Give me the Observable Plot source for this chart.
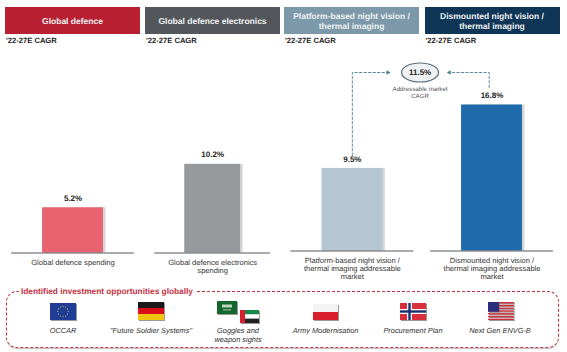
<!DOCTYPE html>
<html><head><meta charset="utf-8">
<script src="https://cdn.jsdelivr.net/npm/d3@7"></script>
<script src="https://cdn.jsdelivr.net/npm/@observablehq/plot@0.6"></script>
<style>
html,body{margin:0;padding:0;background:#fff;width:567px;height:352px;overflow:hidden;font-family:"Liberation Sans",Arial,sans-serif;color:#222;text-rendering:geometricPrecision}
#top{position:relative;height:46px;width:567px}
.hd{position:absolute;top:7px;height:27px;width:135px;display:flex;align-items:center;justify-content:center;text-align:center;color:#eef1f3;font-weight:bold;font-size:8.5px;line-height:10px}
.cg{position:absolute;top:36px;font-size:7.6px;font-weight:bold;color:#222;line-height:9px}
#chart{position:relative;height:244px;width:567px}
#chart svg{display:block;text-rendering:geometricPrecision}
#box{position:relative;height:62px;width:567px}
#frame{position:absolute;left:6px;top:1px;width:551px;height:55px;border:1px dashed #c4303f;border-radius:11px;box-shadow:0 1px 1px #bbb}
#ttl{position:absolute;left:19px;top:-4px;padding:0 2px;background:#fff;color:#c4303f;font-weight:bold;font-size:8.3px;line-height:10px}
.flag{position:absolute}
.lb{position:absolute;transform:translateX(-50%);text-align:center;font-style:italic;font-size:7.4px;line-height:8.8px;white-space:nowrap;color:#333}
</style></head><body>
<div id="top"></div><div id="chart"></div><div id="box"><div id="frame"></div><div id="ttl">Identified investment opportunities globally</div></div>
<script>
const headers = ["Global defence", "Global defence electronics", "Platform-based night vision /\nthermal imaging", "Dismounted night vision /\nthermal imaging"];
const cagrLabel = "'22-27E CAGR";
const categories = ["Global defence spending", "Global defence electronics\nspending", "Platform-based night vision /\nthermal imaging addressable\nmarket", "Dismounted night vision /\nthermal imaging addressable\nmarket"];
const values = [5.2, 10.2, 9.5, 16.8];
const addressableCagr = 11.5;
const addressableLabel = "Addressable market\nCAGR";
const opportunities = ["OCCAR", "\"Future Soldier Systems\"", "Goggles and\nweapon sights", "Army Modernisation", "Procurement Plan", "Next Gen ENVG-B"];

// ---- header row
const hdLeft = [5, 145, 284, 424.5], hdCol = ["#b81f30", "#53565a", "#7d98a8", "#0f3557"], barCol = ["#e8636f", "#97989c", "#b5c6d2", "#1f6bab"];
const topRow = document.getElementById("top");
headers.forEach((h, i) => {
  const d = document.createElement("div"); d.className = "hd";
  d.style.left = hdLeft[i] + "px"; d.style.background = hdCol[i];
  d.innerHTML = h.replace("\n", "<br>"); topRow.appendChild(d);
  const c = document.createElement("div"); c.className = "cg";
  c.style.left = (hdLeft[i] + 1) + "px"; c.textContent = cagrLabel; topRow.appendChild(c);
});

// ---- chart
const rows = categories.map((c, i) => ({i, c, v: values[i]}));
const halfBar = d => d.i === 1 ? 0.2 : 0.218, halfBase = d => d.i === 1 ? 0.415 : 0.44;
const groups = [{rows: rows.slice(0, 2), dy: 2}, {rows: rows.slice(2), dy: 0}];
const bracketLeft = [{x: 2, y: 11}, {x: 2, y: 20.54}, {x: 2.25, y: 20.54}];
const bracketRight = [{x: 2.98, y: 18.8}, {x: 2.98, y: 20.54}, {x: 2.71, y: 20.54}];
const arrowTips = [{x: 2.255, y: 20.54, rotate: 90}, {x: 2.695, y: 20.54, rotate: -90}];
const ellipse = {draw(ctx, size) {
  const a = 18.5, b = 9.5, k = 0.5523;
  ctx.moveTo(-a, 0);
  ctx.bezierCurveTo(-a, -b * k, -a * k, -b, 0, -b);
  ctx.bezierCurveTo(a * k, -b, a, -b * k, a, 0);
  ctx.bezierCurveTo(a, b * k, a * k, b, 0, b);
  ctx.bezierCurveTo(-a * k, b, -a, b * k, -a, 0);
  ctx.closePath();
}};
const plot = Plot.plot({
  width: 567, height: 244, margin: 0, marginBottom: 39.5,
  style: {fontFamily: '"Liberation Sans",Arial,sans-serif', background: "transparent"},
  x: {type: "linear", domain: [0, 3], range: [72.5, 491.5], axis: null},
  y: {domain: [0, 204.5 / 8.69], range: [204.5, 0], axis: null},
  marks: [
    ...groups.flatMap(g => [
      Plot.rect(g.rows, {x1: d => d.i - halfBar(d), x2: d => d.i + halfBar(d), y1: 0, y2: "v", fill: "#d6d6d6", dx: 2.5, dy: g.dy}),
      Plot.rect(g.rows, {x1: d => d.i - halfBar(d), x2: d => d.i + halfBar(d), y1: 0, y2: "v", fill: d => barCol[d.i], dy: g.dy}),
      Plot.ruleY(g.rows, {y: 0, x1: d => d.i - halfBase(d), x2: d => d.i + halfBase(d), stroke: "#55595c", strokeWidth: 1, dy: g.dy}),
      Plot.text(g.rows, {x: "i", y: "v", text: d => d.v.toFixed(1) + "%", dy: g.dy - 9.5, fontWeight: "bold", fontSize: 8, fill: "#222"}),
      Plot.text(g.rows, {x: "i", y: 0, text: "c", dy: g.dy + 5.5, lineAnchor: "top", lineHeight: 1.12, fontSize: 7.55, fill: "#333"})
    ]),
    Plot.line(bracketLeft, {x: "x", y: "y", stroke: "#4f7f8f", strokeWidth: 0.9, strokeDasharray: "2.5,2"}),
    Plot.line(bracketRight, {x: "x", y: "y", stroke: "#4f7f8f", strokeWidth: 0.9, strokeDasharray: "2.5,2"}),
    Plot.dot(arrowTips, {x: "x", y: "y", rotate: "rotate", symbol: "triangle2", r: 2.2, fill: "#4f7f8f"}),
    Plot.dot([addressableCagr], {x: () => 2.485, y: () => 20.54, symbol: ellipse, r: 5, fill: "#eef1f5", stroke: "#5d6d78", strokeWidth: 1.2}),
    Plot.text([addressableCagr], {x: () => 2.485, y: () => 20.54, text: d => d.toFixed(1) + "%", fontWeight: "bold", fontSize: 8, fill: "#222"}),
    Plot.text([addressableLabel], {x: () => 2.485, y: () => 20.54, text: d => d, dy: 13, lineAnchor: "top", lineHeight: 1.2, fontSize: 6.2, fill: "#555"})
  ]
});
document.getElementById("chart").appendChild(plot);

// ---- opportunities
const box = document.getElementById("box");
const star = (cx, cy, n, r, c, s) => d3.range(n).map(k => `<circle cx="${cx + r * Math.sin(k * 6.283 / n)}" cy="${cy - r * Math.cos(k * 6.283 / n)}" r="${s}" fill="${c}"/>`).join("");
const flagSvg = {
  eu: `<rect width="26" height="17" fill="#1f3d96"/>` + star(13, 8.5, 12, 5.2, "#e8d44d", .55),
  de: `<rect width="26" height="6" fill="#1a1a1a"/><rect y="6" width="26" height="6" fill="#d80f1a"/><rect y="12" width="26" height="6" fill="#f2c50f"/>`,
  sa: `<rect width="20" height="13" fill="#14662f"/><rect x="5" y="3.5" width="10" height="3" fill="#bcd6bd"/><rect x="6" y="8.5" width="8" height=".8" fill="#cfe3cf"/>`,
  ae: `<rect width="19" height="4.3" fill="#138a4a"/><rect y="4.3" width="19" height="4.4" fill="#fff"/><rect y="8.7" width="19" height="4.3" fill="#222"/><rect width="5" height="13" fill="#d3202c"/>`,
  pl: `<rect width="25" height="8" fill="#f4f4f4"/><rect y="8" width="25" height="8" fill="#d8202c"/>`,
  no: `<rect width="26" height="17" fill="#d8303a"/><rect x="7" width="5" height="17" fill="#fff"/><rect y="6" width="26" height="5" fill="#fff"/><rect x="8.3" width="2.4" height="17" fill="#1d2f6f"/><rect y="7.3" width="26" height="2.4" fill="#1d2f6f"/>`,
  us: d3.range(7).map(k => `<rect y="${k * 2.77}" width="26" height="1.38" fill="#d0303c"/>`).join("") + `<rect width="11" height="9.7" fill="#2b2f80"/>`
};
const flagPos = [["eu",50,13,26,17],["de",138,12,26,18],["sa",217,10.5,20,13],["ae",240,20,19,13],["pl",313,14,25,16],["no",400,13,26,17],["us",488,12,26,18]];
flagPos.forEach(([k, x, y, w, h]) => {
  box.insertAdjacentHTML("beforeend", `<svg class="flag" style="left:${x}px;top:${y}px;filter:drop-shadow(1px 1px .5px #999)" width="${w}" height="${h}" viewBox="0 0 ${w} ${h}">${flagSvg[k]}</svg>`);
});
const lbX = [63, 151, 238, 325.5, 413, 500];
opportunities.forEach((o, i) => {
  const d = document.createElement("div"); d.className = "lb";
  d.style.left = lbX[i] + "px"; d.style.top = "37px";
  d.innerHTML = o.replace("\n", "<br>"); box.appendChild(d);
});
</script>
</body></html>
